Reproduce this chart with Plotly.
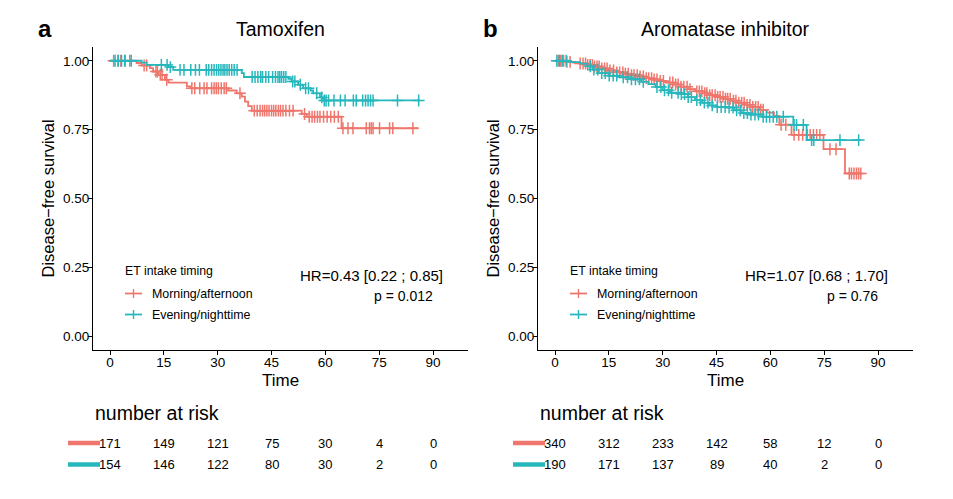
import numpy as np
import plotly.graph_objects as go

W, H = 953, 499
RED = "#EE766C"
TEAL = "#26B7BC"
FONT = "Liberation Sans, Arial, sans-serif"

# ---------------- data ----------------
groups = ["Morning/afternoon", "Evening/nighttime"]
risk_times = [0, 15, 30, 45, 60, 75, 90]
x_ticks = [0, 15, 30, 45, 60, 75, 90]
y_ticks = [0.0, 0.25, 0.50, 0.75, 1.0]
y_ticklabels = ["0.00", "0.25", "0.50", "0.75", "1.00"]

# Panel a: Tamoxifen
tam_red_t = [0, 7.4, 8.8, 11.1, 12.0, 13.5, 15.3, 16.3, 21.4, 22.5, 32.9, 35.3, 36.7, 37.6, 38.5, 39.5, 53.4, 54.8, 64.5]
tam_red_s = [1.0, 0.992, 0.983, 0.973, 0.961, 0.949, 0.931, 0.921, 0.907, 0.900, 0.892, 0.882, 0.870, 0.852, 0.835, 0.819, 0.807, 0.797, 0.755]
tam_red_end = 85.8
tam_red_cens = [1.0, 2.2, 3.0, 4.2, 5.5, 9.5, 10.2, 12.8, 13.2, 14.0, 14.5, 15.8, 22.8, 23.6, 25.0, 26.2, 27.0,
                28.3, 29.0, 29.6, 30.2, 31.0, 31.8, 32.4, 36.2, 40.2, 41.0, 41.8, 42.5, 43.1, 43.7, 44.3, 45.0,
                45.6, 46.2, 46.9, 47.5, 48.2, 49.0, 50.0, 51.0, 54.2, 55.5, 56.3, 57.0, 57.8, 58.5, 59.5, 60.5,
                61.5, 62.5, 63.6, 64.9, 66.3, 67.7, 71.4, 72.3, 72.8, 73.3, 75.1, 77.9, 78.8, 84.4]

tam_teal_t = [0, 8.8, 10.2, 16.2, 17.6, 36.7, 37.3, 49.7, 50.6, 52.4, 53.8, 55.9, 56.6, 58.5, 59.4]
tam_teal_s = [1.0, 0.993, 0.985, 0.977, 0.967, 0.955, 0.941, 0.934, 0.925, 0.913, 0.900, 0.892, 0.882, 0.867, 0.856]
tam_teal_end = 86.4
tam_teal_cens = [1.4, 2.3, 3.2, 4.1, 5.9, 14.3, 15.9, 16.8, 19.5, 20.6, 22.5, 23.8, 24.9, 26.8, 27.5, 28.3, 29.0,
                 29.7, 30.3, 30.9, 31.5, 32.0, 32.6, 33.2, 33.9, 34.6, 35.4, 39.6, 40.4, 41.2, 42.0, 42.5, 43.4,
                 44.2, 45.3, 46.1, 46.8, 47.3, 47.8, 48.4, 49.0, 50.9, 51.5, 53.0, 54.5, 55.3, 57.6, 59.0, 59.7,
                 60.2, 60.9, 62.4, 64.2, 65.5, 67.8, 68.6, 70.4, 71.2, 71.9, 72.6, 73.3, 80.1, 86.0]

# Panel b: Aromatase inhibitor
ai_red_t = [0, 3, 5, 7, 9, 11, 13, 15, 17, 19, 21, 23, 25, 27, 29, 31, 33, 35, 37, 39, 41, 43, 45, 47, 49,
            51, 53, 55, 57, 59, 61, 62.5, 65.9, 74.8, 80.8]
ai_red_s = [1.0, 0.996, 0.993, 0.990, 0.985, 0.979, 0.972, 0.965, 0.958, 0.953, 0.948, 0.943, 0.937, 0.932,
            0.927, 0.921, 0.914, 0.906, 0.897, 0.889, 0.882, 0.875, 0.869, 0.862, 0.855, 0.848, 0.840, 0.832,
            0.822, 0.812, 0.800, 0.768, 0.731, 0.679, 0.591]
ai_red_end = 85.4
ai_red_cens = [0.9, 1.6, 2.4, 3.3, 4.2, 7.0, 7.8, 8.5, 9.1, 9.8, 10.4, 11.0, 11.7, 12.3, 13.0, 13.8, 14.5, 15.3,
               16.3, 17.2, 18.0, 18.9, 19.6, 20.4, 21.3, 22.0, 22.9, 23.7, 24.6, 25.4, 26.1, 26.9, 27.6, 28.4,
               29.3, 30.2, 32.0, 32.8, 33.6, 34.3, 35.1, 35.9, 36.8, 37.6, 39.5, 40.2, 40.9, 41.7, 42.3, 43.1,
               43.8, 44.6, 45.3, 46.0, 46.8, 47.5, 48.1, 48.8, 49.7, 50.4, 51.2, 52.0, 52.7, 53.5, 54.3, 55.1,
               55.9, 56.6, 57.3, 58.0, 63.0, 64.3, 66.6, 67.9, 69.0, 70.3, 71.1, 72.0, 72.9, 73.8, 76.6, 78.3,
               82.0, 82.6, 83.3, 84.0, 84.6, 85.2]

ai_teal_t = [0, 4, 7, 9, 10.5, 12, 15, 18, 21, 24, 26, 28, 30, 32, 35, 37, 39, 41, 43, 45, 48, 50, 52, 54,
             58, 66.4, 70.1]
ai_teal_s = [1.0, 0.995, 0.990, 0.980, 0.968, 0.955, 0.946, 0.940, 0.933, 0.924, 0.915, 0.905, 0.893, 0.884,
             0.879, 0.868, 0.857, 0.848, 0.838, 0.832, 0.830, 0.820, 0.810, 0.805, 0.797, 0.767, 0.712]
ai_teal_end = 85.1
ai_teal_cens = [0.5, 1.2, 2.0, 3.1, 9.8, 10.8, 11.9, 13.0, 14.0, 15.1, 16.2, 17.2, 19.0, 20.2, 21.3, 22.4, 23.5,
                24.6, 28.4, 29.5, 30.5, 31.6, 32.5, 34.3, 35.2, 36.1, 37.1, 38.0, 39.5, 40.5, 41.6, 42.6, 43.8,
                45.2, 46.3, 47.4, 48.5, 49.6, 50.6, 51.6, 52.6, 53.6, 54.6, 55.7, 56.7, 58.0, 58.9, 59.8, 60.8,
                61.8, 63.6, 66.6, 67.3, 69.2, 71.5, 72.1, 79.4, 84.6]

tam_risk = [[171, 149, 121, 75, 30, 4, 0], [154, 146, 122, 80, 30, 2, 0]]
ai_risk = [[340, 312, 233, 142, 58, 12, 0], [190, 171, 137, 89, 40, 2, 0]]

panels = [
    dict(letter="a", title="Tamoxifen", hr="HR=0.43 [0.22 ; 0.85]", p="p = 0.012",
         curves=[(tam_red_t, tam_red_s, tam_red_end, tam_red_cens),
                 (tam_teal_t, tam_teal_s, tam_teal_end, tam_teal_cens)],
         risk=tam_risk, left=93),
    dict(letter="b", title="Aromatase inhibitor", hr="HR=1.07 [0.68 ; 1.70]", p="p = 0.76",
         curves=[(ai_red_t, ai_red_s, ai_red_end, ai_red_cens),
                 (ai_teal_t, ai_teal_s, ai_teal_end, ai_teal_cens)],
         risk=ai_risk, left=538),
]
colors = [RED, TEAL]

# ---------------- geometry helpers ----------------
def px(x):
    return x / W

def py(y):
    return 1 - y / H

PW = 375  # plot width in px
TOP, BOT = 47, 350
XR = [-4.75, 99.75]
YR = [-0.05, 1.05]

fig = go.Figure()
annotations = []
shapes = []

for k, pan in enumerate(panels):
    xa = "x" if k == 0 else "x2"
    ya = "y" if k == 0 else "y2"
    L = pan["left"]
    R = L + PW
    x0px = L + (0 - XR[0]) / (XR[1] - XR[0]) * PW  # pixel of time 0
    scale = PW / (XR[1] - XR[0])

    for g, (t, s, end, cens) in enumerate(pan["curves"]):
        xs = list(t) + [end]
        ys = list(s) + [s[-1]]
        fig.add_trace(go.Scatter(x=xs, y=ys, mode="lines", line=dict(color=colors[g], width=1.8, shape="hv"),
                                 xaxis=xa, yaxis=ya, showlegend=False, hoverinfo="skip"))
        ta = np.array(t)
        idx = np.searchsorted(ta, np.array(cens), side="right") - 1
        cy = np.array(s)[idx]
        fig.add_trace(go.Scatter(x=cens, y=cy, mode="markers",
                                 marker=dict(symbol="cross-thin", size=8.5, line=dict(color=colors[g], width=1.5)),
                                 xaxis=xa, yaxis=ya, showlegend=False, hoverinfo="skip"))

    # panel letter and title
    annotations.append(dict(text="<b>%s</b>" % pan["letter"], x=px(L - 57), y=py(29), xref="paper", yref="paper",
                            xanchor="left", yanchor="middle", showarrow=False, font=dict(size=24, color="black")))
    annotations.append(dict(text=pan["title"], x=px((L + R) / 2), y=py(29), xref="paper", yref="paper",
                            xanchor="center", yanchor="middle", showarrow=False, font=dict(size=19.5, color="black")))
    # axis titles
    annotations.append(dict(text="Time", x=px((L + R) / 2), y=py(380), xref="paper", yref="paper",
                            xanchor="center", yanchor="middle", showarrow=False, font=dict(size=17, color="black")))
    annotations.append(dict(text="Disease\u2212free survival", x=px(L - 46), y=py(198.5), xref="paper", yref="paper",
                            xanchor="center", yanchor="middle", textangle=-90, showarrow=False,
                            font=dict(size=16.5, color="black")))
    # HR and p
    annotations.append(dict(text=pan["hr"], x=px(L + 352), y=py(275.5), xref="paper", yref="paper",
                            xanchor="right", yanchor="middle", showarrow=False, font=dict(size=15, color="black")))
    annotations.append(dict(text=pan["p"], x=px(L + 342), y=py(296), xref="paper", yref="paper",
                            xanchor="right", yanchor="middle", showarrow=False, font=dict(size=14, color="black")))
    # legend (manual)
    annotations.append(dict(text="ET intake timing", x=px(L + 30), y=py(270.5), xref="paper", yref="paper",
                            xanchor="left", yanchor="middle", showarrow=False, font=dict(size=12.3, color="black")))
    for g, name in enumerate(groups):
        yy = 293.5 + g * 21
        shapes.append(dict(type="line", xref="paper", yref="paper", x0=px(L + 32), x1=px(L + 49),
                           y0=py(yy), y1=py(yy), line=dict(color=colors[g], width=1.8)))
        shapes.append(dict(type="line", xref="paper", yref="paper", x0=px(L + 40.5), x1=px(L + 40.5),
                           y0=py(yy - 4.5), y1=py(yy + 4.5), line=dict(color=colors[g], width=1.4)))
        annotations.append(dict(text=name, x=px(L + 57), y=py(yy), xref="paper", yref="paper",
                                xanchor="left", yanchor="middle", showarrow=False,
                                font=dict(size=12.4, color="black")))
    # risk table
    annotations.append(dict(text="number at risk", x=px(L), y=py(413), xref="paper", yref="paper",
                            xanchor="left", yanchor="middle", showarrow=False, font=dict(size=19.5, color="black")))
    for g in range(2):
        yy = 443 + g * 21.5
        shapes.append(dict(type="line", xref="paper", yref="paper", x0=px(x0px - 42), x1=px(x0px - 10),
                           y0=py(yy), y1=py(yy), line=dict(color=colors[g], width=4.5)))
        for tt, n in zip(risk_times, pan["risk"][g]):
            annotations.append(dict(text=str(n), x=px(x0px + tt * scale), y=py(yy), xref="paper", yref="paper",
                                    xanchor="center", yanchor="middle", showarrow=False,
                                    font=dict(size=13, color="black")))

axis_common = dict(showline=True, linecolor="black", linewidth=1, ticks="outside", ticklen=4, tickcolor="black",
                   tickwidth=1, showgrid=False, zeroline=False, tickfont=dict(size=13.5, color="black"),
                   ticklabelstandoff=-4)

layout = dict(
    width=W, height=H, margin=dict(l=0, r=0, t=0, b=0),
    paper_bgcolor="white", plot_bgcolor="white",
    font=dict(family=FONT, color="black"),
    showlegend=False,
    annotations=annotations, shapes=shapes,
)
for k, pan in enumerate(panels):
    L = pan["left"]
    sx = "" if k == 0 else "2"
    layout["xaxis" + sx] = dict(domain=[px(L), px(L + PW)], range=XR, tickvals=x_ticks, anchor="y" + sx,
                                **axis_common)
    layout["yaxis" + sx] = dict(domain=[py(BOT), py(TOP)], range=YR, tickvals=y_ticks, ticktext=y_ticklabels,
                                anchor="x" + sx, **axis_common)

fig.update_layout(**layout)
fig.write_html("out.html", config={"displayModeBar": False},
               post_script="document.body.style.margin='0';document.body.style.overflow='hidden';")
